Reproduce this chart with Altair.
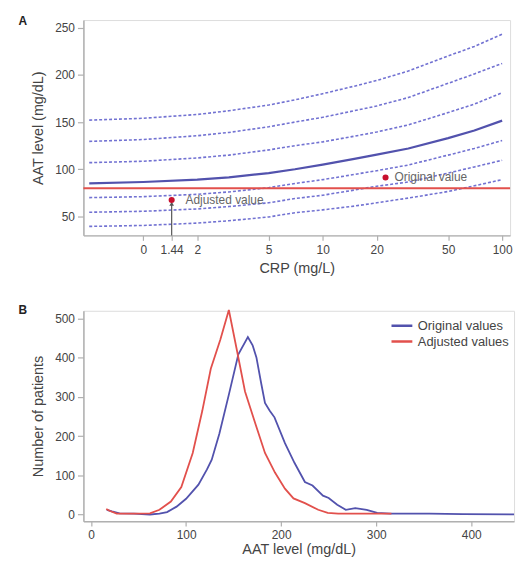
import altair as alt
import pandas as pd

# ---------- Panel A: AAT reference centiles vs CRP ----------
crp = [0.5, 1, 2, 3, 5, 7, 10, 15, 20, 30, 50, 70, 100]
c1 = [152, 154, 158, 162, 168, 173.5, 180, 188, 194, 204, 220, 230, 243]
c2 = [129.5, 131.5, 135.5, 139, 145, 150, 155, 162, 167, 176, 191, 201, 212]
c3 = [107, 108.5, 112, 115, 120.5, 125, 129, 135, 139.5, 147, 160, 169, 181]
median = [85, 86.5, 89, 91.5, 96, 100, 105, 111, 115.5, 122, 133, 141, 151.5]
c5 = [70, 71, 73.5, 76, 80.5, 85, 89, 94.5, 98.5, 104.5, 115, 122, 130.5]
c6 = [54.5, 55.5, 58, 60.5, 64.5, 69, 72.5, 78, 82, 86.5, 96, 102.5, 109.5]
c7 = [39.5, 40.5, 43, 45.5, 49.5, 54, 57, 61, 64.5, 69.5, 76.5, 82.5, 89]
threshold = [80]
point_crp = [1.44, 22.4]
point_aat = [67.5, 91.3]
point_labels = ["Adjusted value", "Original value"]
crp_ticks = [1, 1.44, 2, 5, 10, 20, 50, 100]

# ---------- Panel B: distributions ----------
orig_x = [16.6, 22, 30, 45, 62, 72, 80, 90, 100, 113, 122, 127, 135, 145, 155, 165, 170, 174,
          179, 183, 188, 193, 204, 214, 225, 233, 244, 250, 259, 268, 278, 290, 301, 315, 356,
          391, 445]
orig_y = [12, 8, 3, 2, 0, 2, 6, 20, 40, 76, 115, 140, 206, 306, 409, 453, 432, 401,
          335, 285, 265, 248, 182, 132, 83, 74, 48, 42, 25, 12, 16, 12, 4, 2, 2,
          1, 0]
adj_x = [16, 20, 27, 45, 62, 72, 84, 95, 107, 117, 126, 136, 145, 153, 162, 173, 183, 193.5,
         204, 213, 225, 239, 249, 260, 316]
adj_y = [14, 9, 2, 2, 3, 12, 33, 70, 157, 264, 372, 446, 522, 425, 314, 231, 157, 107,
         66, 41, 29, 12, 4, 2, 2]

BLUE = "#5252ad"
BLUE_D = "#7272d2"
RED = "#e2504c"
PT_RED = "#c8102e"
TXT = "#444444"
AX = "#b0b0b0"

# ----- build tables -----
rows = []
for name, vals in [("c1", c1), ("c2", c2), ("c3", c3), ("c5", c5), ("c6", c6), ("c7", c7)]:
    for x, y in zip(crp, vals):
        rows.append({"crp": x, "aat": y, "centile": name})
dashed_df = pd.DataFrame(rows)
median_df = pd.DataFrame({"crp": crp, "aat": median})

xA = alt.X("crp:Q",
           scale=alt.Scale(type="log", domain=[0.464, 110.7], nice=False),
           axis=alt.Axis(values=crp_ticks, title="CRP (mg/L)",
                         labelExpr="datum.value == 1 ? '0' : format(datum.value, '~g')",
                         labelOverlap=False, labelFlush=False, tickSize=5,
                         labelPadding=4, titlePadding=6))
yA = alt.Y("aat:Q", scale=alt.Scale(domain=[30, 258], nice=False, zero=False),
           axis=alt.Axis(values=[50, 100, 150, 200, 250], title="AAT level (mg/dL)",
                         tickSize=6, labelPadding=3, titlePadding=9))

dashed = alt.Chart(dashed_df).mark_line(color=BLUE_D, strokeWidth=1.6, strokeDash=[3, 2]).encode(
    x=xA, y=yA, detail="centile:N")
solid = alt.Chart(median_df).mark_line(color=BLUE, strokeWidth=2.2).encode(x="crp:Q", y="aat:Q")
hline = alt.Chart(pd.DataFrame({"aat": threshold})).mark_rule(color=RED, strokeWidth=2).encode(y="aat:Q")

arrow_df = pd.DataFrame({"crp": [point_crp[0]], "y0": [30], "y1": [point_aat[0] - 4]})
arrow = alt.Chart(arrow_df).mark_rule(color="#555555", strokeWidth=1.2).encode(
    x="crp:Q", y="y0:Q", y2="y1:Q")
arrow_head = alt.Chart(arrow_df).mark_point(shape="triangle-up", filled=True, size=22,
                                            color="#555555", opacity=1).encode(x="crp:Q", y="y1:Q")

pts_df = pd.DataFrame({"crp": point_crp, "aat": point_aat, "label": point_labels})
pts = alt.Chart(pts_df).mark_circle(color=PT_RED, size=38, opacity=1).encode(x="crp:Q", y="aat:Q")
lab_adj = alt.Chart(pts_df.iloc[[0]]).mark_text(align="left", baseline="middle", dx=14,
                                                 fontSize=12, color="#666666").encode(
    x="crp:Q", y="aat:Q", text="label:N")
lab_orig = alt.Chart(pts_df.iloc[[1]]).mark_text(align="left", baseline="middle", dx=9,
                                                  fontSize=12, color="#666666").encode(
    x="crp:Q", y="aat:Q", text="label:N")
tagA = alt.Chart(pd.DataFrame({"t": ["A"]})).mark_text(fontWeight="bold", fontSize=12,
                                                         align="center", baseline="middle",
                                                         color="#222222").encode(
    text="t:N", x=alt.value(-61), y=alt.value(1))

panelA = alt.layer(dashed, solid, hline, arrow, arrow_head, pts, lab_adj, lab_orig, tagA).properties(
    width=430, height=217)

# ----- panel B -----
dist_df = pd.concat([
    pd.DataFrame({"aat": orig_x, "n": orig_y, "series": "Original values", "o": range(len(orig_x))}),
    pd.DataFrame({"aat": adj_x, "n": adj_y, "series": "Adjusted values", "o": range(len(adj_x))}),
])

lines = alt.Chart(dist_df).mark_line(strokeWidth=1.8).encode(
    x=alt.X("aat:Q", scale=alt.Scale(domain=[-8, 445], nice=False, zero=False),
            axis=alt.Axis(values=[0, 100, 200, 300, 400], title="AAT level (mg/dL)",
                          tickSize=5, labelPadding=4, titlePadding=2)),
    y=alt.Y("n:Q", scale=alt.Scale(domain=[-17, 520], nice=False, zero=False),
            axis=alt.Axis(values=[0, 100, 200, 300, 400, 500], title="Number of patients",
                          tickSize=6, labelPadding=3, titlePadding=9)),
    color=alt.Color("series:N",
                    scale=alt.Scale(domain=["Original values", "Adjusted values"], range=[BLUE, RED]),
                    legend=alt.Legend(title=None, orient="none", legendX=309, legendY=8,
                                      symbolType="stroke", symbolSize=441, symbolStrokeWidth=2.5,
                                      labelFontSize=13, labelColor=TXT, rowPadding=2,
                                      clipHeight=14, padding=0, labelOffset=4)),
    order="o:Q",
)
tagB = alt.Chart(pd.DataFrame({"t": ["B"]})).mark_text(fontWeight="bold", fontSize=12,
                                                         align="center", baseline="middle",
                                                         color="#222222").encode(
    text="t:N", x=alt.value(-61), y=alt.value(-1))

panelB = alt.layer(lines, tagB).properties(width=434, height=212)

chart = alt.vconcat(panelA, panelB, spacing=28).resolve_legend(color="independent").properties(
    padding={"left": 10, "top": 4, "right": 0, "bottom": 0}
).configure_view(stroke=None).configure(
    font="Liberation Sans"
).configure_axis(
    grid=False, domainColor=AX, tickColor=AX, domainWidth=1.5, tickWidth=1.2,
    labelColor=TXT, titleColor=TXT, labelFontSize=12, titleFontSize=14.5,
    titleFontWeight="normal", labelFont="Liberation Sans", titleFont="Liberation Sans"
)

chart.save("out.html", embed_options={"renderer": "svg", "actions": False})
